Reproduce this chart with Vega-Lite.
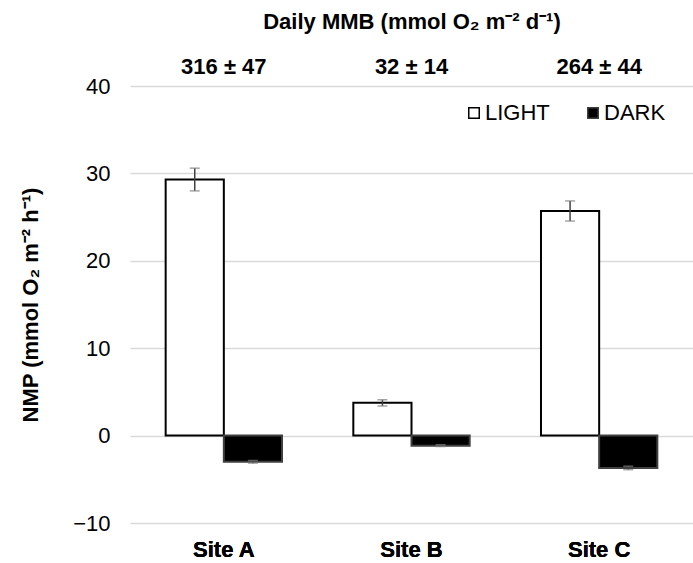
{
  "$schema": "https://vega.github.io/schema/vega-lite/v6.json",
  "width": 563,
  "height": 437,
  "autosize": {"type": "none"},
  "padding": {"left": 130, "top": 86, "right": 0, "bottom": 40},
  "background": "white",
  "config": {
    "font": "Liberation Sans",
    "view": {"stroke": null},
    "axis": {"labelFont": "Liberation Sans", "titleFont": "Liberation Sans", "labelColor": "black", "titleColor": "black"}
  },
  "data": {
    "values": [
      {"site": "Site A", "cond": "LIGHT", "nmp": 29.3, "lo": 28.0, "hi": 30.6, "mmb": "316 ± 47"},
      {"site": "Site A", "cond": "DARK", "nmp": -3.0, "lo": -3.15, "hi": -2.85, "mmb": "316 ± 47"},
      {"site": "Site B", "cond": "LIGHT", "nmp": 3.75, "lo": 3.4, "hi": 4.1, "mmb": "32 ± 14"},
      {"site": "Site B", "cond": "DARK", "nmp": -1.15, "lo": -1.25, "hi": -1.05, "mmb": "32 ± 14"},
      {"site": "Site C", "cond": "LIGHT", "nmp": 25.7, "lo": 24.55, "hi": 26.85, "mmb": "264 ± 44"},
      {"site": "Site C", "cond": "DARK", "nmp": -3.7, "lo": -3.9, "hi": -3.5, "mmb": "264 ± 44"}
    ]
  },
  "encoding": {
    "x": {
      "field": "site",
      "type": "nominal",
      "sort": ["Site A", "Site B", "Site C"],
      "scale": {"paddingInner": 0.38, "paddingOuter": 0.19},
      "axis": {
        "orient": "bottom",
        "title": null,
        "domain": false,
        "ticks": false,
        "labelAngle": 0,
        "labelFontSize": 22,
        "labelFontWeight": "bold",
        "labelPadding": 16
      }
    },
    "xOffset": {"field": "cond", "type": "nominal", "sort": ["LIGHT", "DARK"], "scale": {"paddingInner": 0, "paddingOuter": 0}}
  },
  "layer": [
    {
      "mark": {"type": "bar", "strokeWidth": 2},
      "encoding": {
        "y": {
          "field": "nmp",
          "type": "quantitative",
          "scale": {"domain": [-10, 40], "nice": false, "zero": false},
          "axis": {
            "title": "NMP (mmol O₂ m⁻² h⁻¹)",
            "titleFontSize": 22,
            "titleFontWeight": "bold",
            "titlePadding": 30,
            "values": [-10, 0, 10, 20, 30, 40],
            "labelFontSize": 22,
            "labelPadding": 20,
            "domain": false,
            "ticks": false,
            "grid": true,
            "gridColor": "#d9d9d9",
            "gridWidth": 1.5
          }
        },
        "fill": {
          "field": "cond",
          "type": "nominal",
          "sort": ["LIGHT", "DARK"],
          "scale": {"domain": ["LIGHT", "DARK"], "range": ["white", "black"]},
          "legend": {
            "title": null,
            "orient": "none",
            "legendX": 333,
            "legendY": 16,
            "direction": "horizontal",
            "symbolType": "square",
            "symbolSize": 110,
            "symbolStrokeColor": "black",
            "symbolStrokeWidth": 1.5,
            "labelFontSize": 22,
            "labelFont": "Liberation Sans",
            "labelColor": "black",
            "columnPadding": 32,
            "labelOffset": 0
          }
        },
        "stroke": {
          "field": "cond",
          "type": "nominal",
          "scale": {"domain": ["LIGHT", "DARK"], "range": ["black", "#404040"]},
          "legend": null
        }
      }
    },
    {
      "mark": {"type": "rule", "color": "#404040", "strokeWidth": 1.5},
      "encoding": {
        "y": {"field": "lo", "type": "quantitative"},
        "y2": {"field": "hi"}
      }
    },
    {
      "mark": {"type": "tick", "color": "#7f7f7f", "thickness": 1.5, "size": 10},
      "encoding": {
        "y": {"field": "lo", "type": "quantitative"}
      }
    },
    {
      "mark": {"type": "tick", "color": "#7f7f7f", "thickness": 1.5, "size": 10},
      "encoding": {
        "y": {"field": "hi", "type": "quantitative"},
        "x": {
          "field": "site",
          "type": "nominal",
          "sort": ["Site A", "Site B", "Site C"],
          "axis": {
            "orient": "top",
            "title": "Daily MMB (mmol O₂ m⁻² d⁻¹)",
            "titleFontSize": 22,
            "titleFontWeight": "bold",
            "titlePadding": 22,
            "domain": false,
            "ticks": false,
            "labelAngle": 0,
            "labelFontSize": 22,
            "labelFontWeight": "bold",
            "labelPadding": 8,
            "labelExpr": "datum.label == 'Site A' ? '316 ± 47' : datum.label == 'Site B' ? '32 ± 14' : '264 ± 44'"
          }
        }
      }
    }
  ],
  "resolve": {"axis": {"x": "independent"}}
}
